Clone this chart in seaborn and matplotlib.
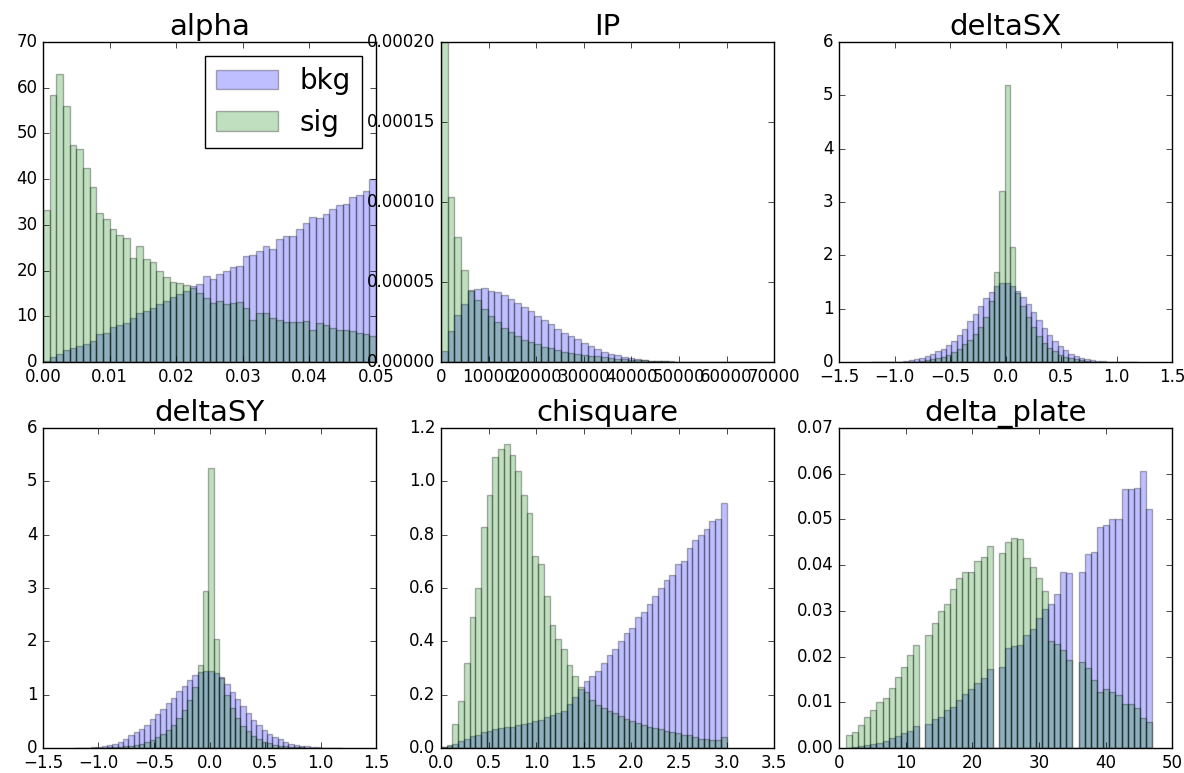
import numpy as np
import pandas as pd
import matplotlib
matplotlib.use("Agg")
import matplotlib.pyplot as plt
from matplotlib.patches import Patch
import seaborn as sns

# ---------------------------------------------------------------------------
# histogram heights (normed, 50 bins per variable)
# ---------------------------------------------------------------------------
alpha_range = (0.0, 0.05)
alpha_bkg = [0.2, 1.0, 1.8, 2.6, 3.1, 3.5, 4.0, 4.7, 6.1, 6.4,
             7.7, 8.1, 8.6, 9.7, 10.8, 11.2, 11.9, 12.6, 13.4, 14.2,
             14.8, 15.6, 16.7, 17.0, 18.8, 18.1, 19.2, 19.9, 20.7, 21.0,
             23.2, 23.4, 24.2, 25.4, 24.7, 26.9, 27.6, 27.6, 29.1, 30.5,
             31.8, 31.6, 32.4, 33.5, 34.4, 34.6, 36.0, 36.6, 37.5, 40.0]
alpha_sig = [33.2, 58.3, 63.0, 55.9, 47.5, 46.6, 42.4, 38.3, 32.7, 31.3,
             29.1, 27.8, 27.2, 22.7, 25.4, 22.5, 21.8, 19.9, 18.6, 17.5,
             17.2, 16.9, 16.2, 15.2, 14.1, 13.0, 13.4, 12.8, 13.0, 13.1,
             11.9, 9.3, 10.8, 10.8, 9.7, 9.3, 8.8, 8.8, 8.8, 9.0,
             6.9, 8.6, 8.1, 7.5, 6.9, 6.9, 6.8, 6.4, 6.1, 5.7]

# IP heights in units of 1e-5
ip_range = (0.0, 70000.0)
ip_bkg = [0.69, 1.94, 2.94, 3.6, 4.45, 4.55, 4.6, 4.45, 4.35, 4.2,
          3.92, 3.72, 3.44, 3.19, 2.88, 2.6, 2.36, 2.05, 1.84, 1.63,
          1.42, 1.21, 1.0, 0.79, 0.65, 0.52, 0.42, 0.31, 0.23, 0.17,
          0.13, 0.08, 0.06, 0.04, 0.03, 0.02, 0.01, 0.01, 0.005, 0.005,
          0, 0, 0, 0, 0, 0, 0, 0, 0, 0]
ip_sig = [20.5, 10.3, 7.8, 5.74, 4.5, 3.9, 3.3, 2.9, 2.5, 2.1,
          1.85, 1.6, 1.4, 1.25, 1.1, 0.95, 0.85, 0.75, 0.65, 0.58,
          0.5, 0.45, 0.4, 0.35, 0.3, 0.26, 0.22, 0.18, 0.15, 0.12,
          0.1, 0.08, 0.06, 0.05, 0.04, 0.03, 0.02, 0.015, 0.01, 0.005,
          0, 0, 0, 0, 0, 0, 0, 0, 0, 0]

dsx_range = (-1.21, 1.19)
dsx_bkg = [0, 0, 0.002, 0.004, 0.007, 0.01, 0.018, 0.03, 0.05, 0.08,
           0.12, 0.16, 0.2, 0.25, 0.31, 0.4, 0.5, 0.62, 0.76, 0.9,
           1.05, 1.2, 1.32, 1.42, 1.48, 1.48, 1.42, 1.34, 1.22, 1.08,
           0.93, 0.78, 0.64, 0.51, 0.4, 0.3, 0.22, 0.16, 0.11, 0.08,
           0.05, 0.035, 0.02, 0.013, 0.008, 0.005, 0.003, 0.002, 0.001, 0]
dsx_sig = [0, 0, 0, 0, 0, 0, 0, 0.005, 0.01, 0.02,
           0.03, 0.05, 0.07, 0.1, 0.14, 0.19, 0.25, 0.33, 0.42, 0.52,
           0.66, 0.85, 1.15, 1.69, 3.2, 5.2, 2.15, 1.3, 1.05, 0.85,
           0.65, 0.48, 0.36, 0.27, 0.2, 0.14, 0.1, 0.07, 0.05, 0.03,
           0.02, 0.01, 0.005, 0, 0, 0, 0, 0, 0, 0]

dsy_range = (-1.21, 1.19)
dsy_bkg = [0.003, 0.005, 0.008, 0.01, 0.02, 0.03, 0.05, 0.07, 0.11, 0.17,
           0.24, 0.3, 0.36, 0.44, 0.54, 0.64, 0.74, 0.84, 0.94, 1.06,
           1.16, 1.28, 1.36, 1.42, 1.45, 1.44, 1.4, 1.33, 1.2, 1.05,
           0.92, 0.78, 0.65, 0.53, 0.43, 0.34, 0.27, 0.21, 0.16, 0.12,
           0.08, 0.06, 0.04, 0.03, 0.02, 0.012, 0.008, 0.005, 0.003, 0.001]
dsy_sig = [0, 0, 0, 0, 0, 0.005, 0.01, 0.015, 0.02, 0.03,
           0.04, 0.06, 0.08, 0.11, 0.15, 0.2, 0.26, 0.34, 0.44, 0.56,
           0.72, 0.9, 1.15, 1.55, 2.95, 5.25, 2.05, 1.32, 1.0, 0.75,
           0.56, 0.42, 0.31, 0.23, 0.17, 0.12, 0.09, 0.06, 0.04, 0.03,
           0.02, 0.015, 0.01, 0.005, 0, 0, 0, 0, 0, 0]

chi_range = (0.0, 3.0)
chi_bkg = [0.003, 0.008, 0.015, 0.025, 0.035, 0.045, 0.05, 0.06, 0.065, 0.07,
           0.075, 0.078, 0.08, 0.085, 0.09, 0.095, 0.1, 0.105, 0.115, 0.125,
           0.13, 0.14, 0.165, 0.19, 0.22, 0.25, 0.27, 0.29, 0.32, 0.35,
           0.37, 0.4, 0.43, 0.45, 0.49, 0.51, 0.54, 0.57, 0.6, 0.63,
           0.65, 0.69, 0.7, 0.75, 0.78, 0.8, 0.82, 0.85, 0.86, 0.92]
chi_sig = [0.005, 0.01, 0.09, 0.175, 0.32, 0.49, 0.6, 0.83, 0.95, 1.09,
           1.12, 1.14, 1.1, 1.04, 0.95, 0.88, 0.72, 0.69, 0.57, 0.46,
           0.41, 0.37, 0.31, 0.27, 0.23, 0.21, 0.18, 0.16, 0.15, 0.14,
           0.13, 0.12, 0.11, 0.10, 0.095, 0.085, 0.08, 0.075, 0.07, 0.065,
           0.06, 0.055, 0.05, 0.05, 0.04, 0.035, 0.035, 0.03, 0.03, 0.04]

# integer-valued variable: three of the 50 bins catch no value
dp_range = (1.0, 47.0)
dp_bkg = [0.0001, 0.0002, 0.0004, 0.0006, 0.0008, 0.0012, 0.0016, 0.0021, 0.0026, 0.0032,
          0.0038, 0.0048, 0, 0.0053, 0.0063, 0.0068, 0.0083, 0.009, 0.0105, 0.0118,
          0.013, 0.0142, 0.0153, 0.0172, 0, 0.0178, 0.0218, 0.0224, 0.0225, 0.0248,
          0.026, 0.0285, 0.0305, 0.0316, 0.0337, 0.0384, 0.0383, 0, 0.0384, 0.0424,
          0.0428, 0.0484, 0.0487, 0.05, 0.05, 0.0567, 0.0567, 0.0569, 0.0606, 0.0522]
dp_sig = [0.0029, 0.0036, 0.0051, 0.0067, 0.0083, 0.0101, 0.0109, 0.0131, 0.0156, 0.0178,
          0.0203, 0.0226, 0, 0.0248, 0.0274, 0.0299, 0.0315, 0.0347, 0.0371, 0.0384,
          0.0386, 0.0408, 0.0417, 0.0441, 0, 0.0426, 0.045, 0.0459, 0.0457, 0.0415,
          0.0395, 0.0371, 0.0343, 0.0234, 0.0228, 0.0214, 0.0192, 0, 0.0188, 0.0174,
          0.0149, 0.0123, 0.0129, 0.0123, 0.0116, 0.0096, 0.0096, 0.0087, 0.0065, 0.0058]

panels = [
    ("alpha", alpha_range, alpha_bkg, alpha_sig, 1.0, (0, 0.05), (0, 70)),
    ("IP", ip_range, ip_bkg, ip_sig, 1e-5, (0, 70000), (0, 0.0002)),
    ("deltaSX", dsx_range, dsx_bkg, dsx_sig, 1.0, (-1.5, 1.5), (0, 6)),
    ("deltaSY", dsy_range, dsy_bkg, dsy_sig, 1.0, (-1.5, 1.5), (0, 6)),
    ("chisquare", chi_range, chi_bkg, chi_sig, 1.0, (0, 3.5), (0, 1.2)),
    ("delta_plate", dp_range, dp_bkg, dp_sig, 1.0, (0, 50), (0, 0.07)),
]

# =============================================================================
# DRAW
# =============================================================================
plt.style.use("classic")
fig, axes = plt.subplots(2, 3, figsize=(11.84, 7.73), dpi=100, facecolor="white")
fig.subplots_adjust(left=0.0363, right=0.99, bottom=0.0323, top=0.9457,
                    wspace=0.195, hspace=0.206)

edge = (0, 0, 0, 0.3)  # black edges at the same alpha as the faces
for ax, (name, rng, bkg, sig, scale, xlim, ylim) in zip(axes.flat, panels):
    edges = np.linspace(rng[0], rng[1], 51)
    centers = (edges[:-1] + edges[1:]) / 2
    df = pd.DataFrame({"x": centers,
                       "bkg": np.array(bkg) * scale,
                       "sig": np.array(sig) * scale})
    sns.histplot(data=df, x="x", weights="bkg", bins=list(edges), ax=ax,
                 color="b", alpha=0.25, edgecolor=edge, linewidth=1.0)
    sns.histplot(data=df, x="x", weights="sig", bins=list(edges), ax=ax,
                 color="g", alpha=0.25, edgecolor=edge, linewidth=1.0)
    ax.set_xlim(*xlim)
    ax.set_ylim(*ylim)
    ax.set_title(name, fontsize=21)
    ax.set_xlabel("")
    ax.set_ylabel("")
    ax.set_facecolor("white")

handles = [Patch(facecolor=(0, 0, 1, 0.25), edgecolor=edge, label="bkg"),
           Patch(facecolor=(0, 0.5, 0, 0.25), edgecolor=edge, label="sig")]
axes[0, 0].legend(handles=handles, loc="upper right", fontsize=20,
                  handlelength=2.2, frameon=True)

plt.savefig("out.png", dpi=100, facecolor="white")
